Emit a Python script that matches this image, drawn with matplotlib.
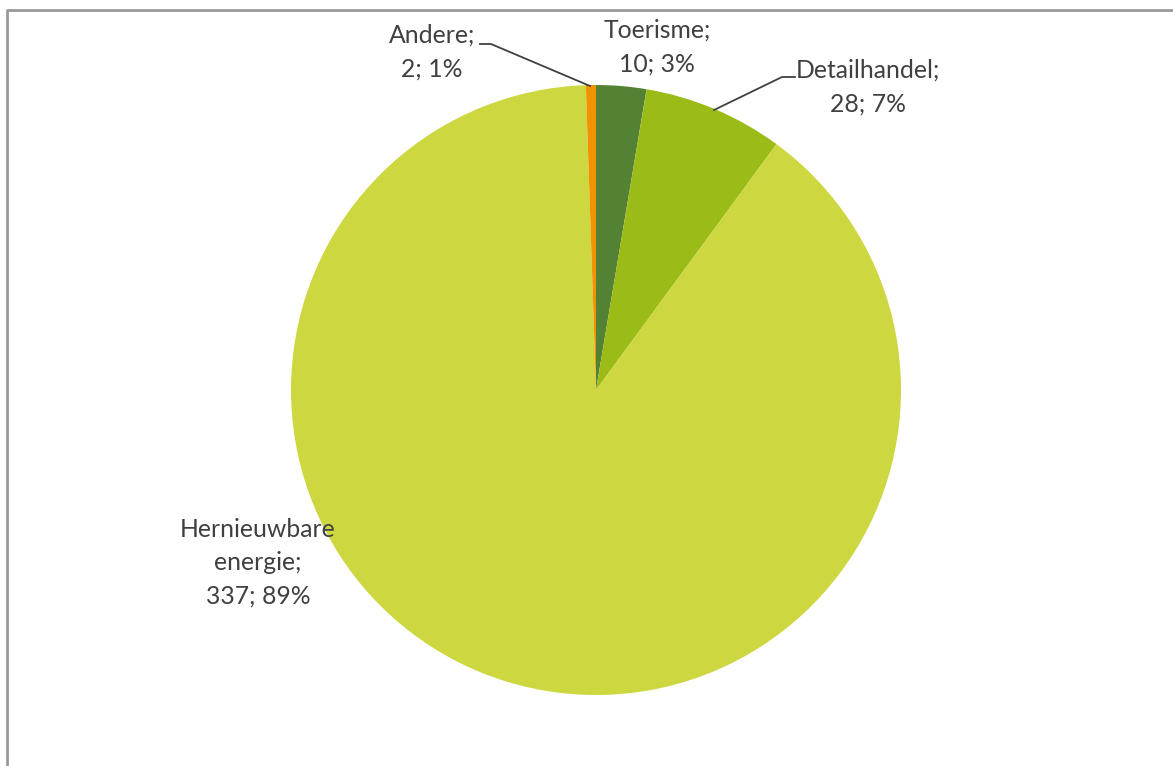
import matplotlib
matplotlib.use("Agg")
import matplotlib.pyplot as plt
from matplotlib.lines import Line2D

categories = ["Toerisme", "Detailhandel", "Hernieuwbare energie", "Andere"]
values = [10, 28, 337, 2]
colors = ["#548235", "#9BBB17", "#CDD73F", "#F39200"]

W, H = 1173, 766
fig = plt.figure(figsize=(W / 100, H / 100), dpi=100)
ax = fig.add_axes([0, 0, 1, 1])
ax.set_xlim(0, W)
ax.set_ylim(0, H)
ax.axis("off")

cx, cy, r = 596, H - 390, 305
ax.pie(values, colors=colors, startangle=90, counterclock=False,
       center=(cx, cy), radius=r, frame=False,
       wedgeprops=dict(linewidth=0))
ax.set_xlim(0, W)
ax.set_ylim(0, H)
ax.set_aspect("auto")

total = sum(values)
pct = [round(v / total * 100) for v in values]

tc = "#404040"
fs = 17.8
fam = ["Lato", "DejaVu Sans"]

def lab(x, y, txt, ha="center"):
    ax.text(x, H - y, txt, ha=ha, va="center", fontsize=fs, color=tc,
            family=fam, linespacing=1.55)

lab(657, 47, f"{categories[0]};\n{values[0]}; {pct[0]}%")
lab(868, 87, f"{categories[1]};\n{values[1]}; {pct[1]}%")
lab(258, 563, "Hernieuwbare\nenergie;\n" + f"{values[2]}; {pct[2]}%")
lab(432, 52, f"{categories[3]};\n{values[3]}; {pct[3]}%")

# leader lines
ax.add_line(Line2D([480, 491, 590], [H - 44, H - 44, H - 86], color="#404040", lw=1.3))
ax.add_line(Line2D([795, 782, 714], [H - 77, H - 77, H - 110], color="#404040", lw=1.3))

# frame (top and left visible)
ax.add_line(Line2D([7, 7, W], [0, H - 10, H - 10], color="#999999", lw=2.0))

fig.savefig("out.png", dpi=100)
